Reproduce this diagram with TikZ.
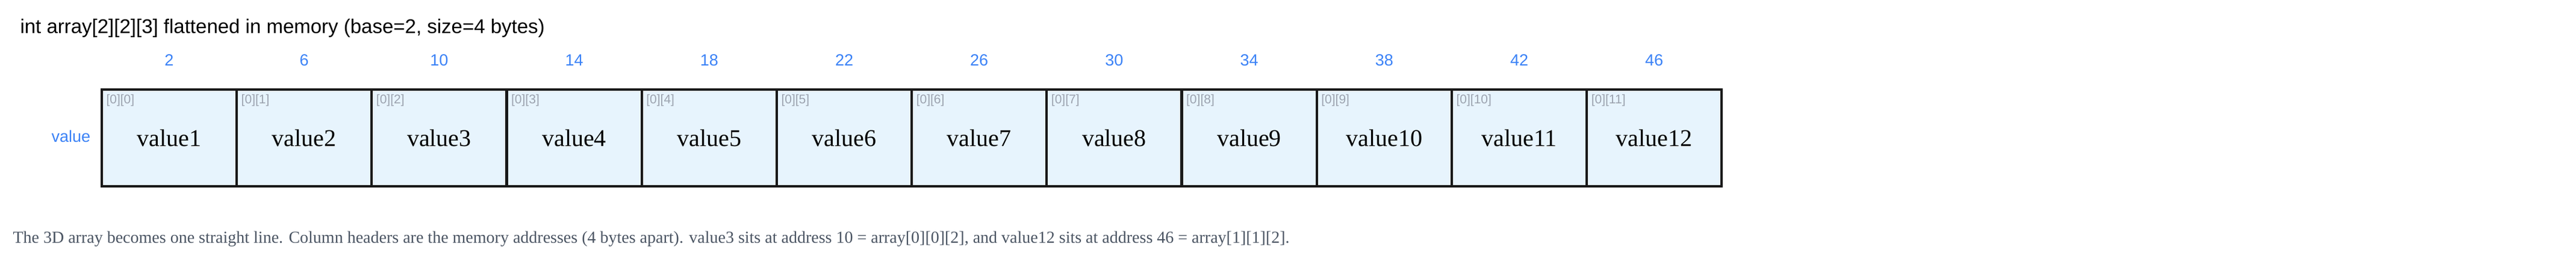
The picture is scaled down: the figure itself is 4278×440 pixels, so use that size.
\documentclass[tikz,border=0pt]{standalone}
\usepackage{fontspec}
\setmainfont{Liberation Serif}
\setsansfont{Liberation Sans}
\definecolor{addr}{HTML}{3B82F6}
\definecolor{cellfill}{HTML}{E7F4FD}
\definecolor{idx}{HTML}{9CA3AF}
\definecolor{cap}{HTML}{4B5563}
\begin{document}
\begin{tikzpicture}[x=1pt,y=-1pt,
  cellbox/.style={draw=black!90,fill=cellfill,line width=4pt,minimum width=224pt,minimum height=161pt,inner sep=0pt,anchor=north west,font=\fontsize{40}{46}\selectfont},
  addrlbl/.style={text=addr,font=\sffamily\fontsize{27}{31}\selectfont},
  idxlbl/.style={text=idx,font=\sffamily\fontsize{21}{25}\selectfont,anchor=north west}]
\useasboundingbox (0,0) rectangle (4278,440);
\node[anchor=base west,font=\sffamily\fontsize{33}{40}\selectfont] (title) at (30,55) {int array[2][2][3] flattened in memory (base=2, size=4 bytes)};
\node[addrlbl] (rowlbl) at (118,227) {value};
\foreach \i/\a in {1/2,2/6,3/10,4/14,5/18,6/22,7/26,8/30,9/34,10/38,11/42,12/46}{
  \pgfmathsetmacro{\xx}{167+(\i-1)*224.2}
  \pgfmathtruncatemacro{\k}{\i-1}
  \node[cellbox] (c\i) at (\xx,147) {value\i};
  \node[addrlbl] (a\i) at (c\i.center |- 0,100) {\a};
  \node[idxlbl] (i\i) at ([xshift=6pt,yshift=-7pt]c\i.north west) {[0][\k]};
}
\node[anchor=base west,text=cap,font=\fontsize{28}{32}\selectfont] (caption) at (18,404) {The 3D array becomes one straight line. Column headers are the memory addresses (4 bytes apart). value3 sits at address 10 = array[0][0][2], and value12 sits at address 46 = array[1][1][2].};
\end{tikzpicture}
\end{document}
